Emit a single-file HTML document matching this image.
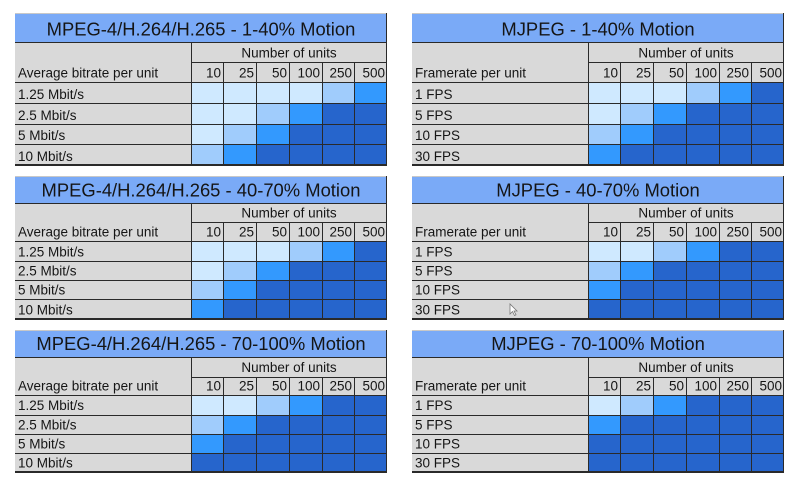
<!DOCTYPE html>
<html>
<head>
<meta charset="utf-8">
<style>
html,body{margin:0;padding:0;background:#fff;}
svg{display:block;}
.t{font-family:"Liberation Sans",sans-serif;font-size:18.4px;text-anchor:middle;fill:#151515;}
.l{font-family:"Liberation Sans",sans-serif;font-size:13.5px;fill:#151515;}
.n{font-family:"Liberation Sans",sans-serif;font-size:13.5px;fill:#151515;text-anchor:end;}
.m{font-family:"Liberation Sans",sans-serif;font-size:13.5px;fill:#151515;text-anchor:middle;}
.ti{fill:#7aaaf7;}
.g{fill:#d9d9d9;}
.a{fill:#cfe9ff;}
.b{fill:#a0ccfc;}
.c{fill:#3399fe;}
.d{fill:#2665cc;}
.k{fill:#2a2a2a;}
.lg{fill:#c8c8c8;}
</style>
</head>
<body>
<svg width="800" height="488" viewBox="0 0 800 488" xmlns="http://www.w3.org/2000/svg">
<rect width="800" height="488" fill="#fff"/>

<!-- ================= T1 LEFT ================= -->
<g transform="translate(15,13)">
<rect width="372" height="29" class="ti"/>
<rect width="372" height="1" class="lg"/>
<rect y="29" width="372" height="123" class="g"/>
<rect x="176" y="70" width="196" height="82" class="d"/>
<rect x="176" y="70" width="131" height="20" class="a"/><rect x="307" y="70" width="32" height="20" class="b"/><rect x="339" y="70" width="33" height="20" class="c"/>
<rect x="176" y="90" width="65" height="21" class="a"/><rect x="241" y="90" width="33" height="21" class="b"/><rect x="274" y="90" width="33" height="21" class="c"/>
<rect x="176" y="111" width="32" height="20" class="a"/><rect x="208" y="111" width="33" height="20" class="b"/><rect x="241" y="111" width="33" height="20" class="c"/>
<rect x="176" y="131" width="32" height="21" class="b"/><rect x="208" y="131" width="33" height="21" class="c"/>
<rect y="29" width="372" height="1" class="k"/>
<rect x="176" y="49" width="196" height="1" class="k"/>
<rect y="69" width="372" height="1" class="k"/>
<rect y="90" width="372" height="1" class="k"/>
<rect y="111" width="372" height="1" class="k"/>
<rect y="131" width="372" height="1" class="k"/>
<rect y="151" width="372" height="2" class="k"/>
<rect x="176" y="29" width="1" height="124" class="k"/>
<rect x="208" y="49" width="1" height="104" class="k"/>
<rect x="241" y="49" width="1" height="104" class="k"/>
<rect x="274" y="49" width="1" height="104" class="k"/>
<rect x="307" y="49" width="1" height="104" class="k"/>
<rect x="339" y="49" width="1" height="104" class="k"/>
<rect x="371" y="0" width="1" height="153" class="k"/>
<text class="t" x="186" y="22.3">MPEG-4/H.264/H.265 - 1-40% Motion</text>
<text class="m" x="274" y="44.3">Number of units</text>
<text class="l" x="3" y="64.5">Average bitrate per unit</text>
<text class="n" x="206" y="64.5">10</text><text class="n" x="239" y="64.5">25</text><text class="n" x="272" y="64.5">50</text><text class="n" x="305" y="64.5">100</text><text class="n" x="337" y="64.5">250</text><text class="n" x="370" y="64.5">500</text>
<text class="l" x="3" y="86">1.25 Mbit/s</text>
<text class="l" x="3" y="107">2.5 Mbit/s</text>
<text class="l" x="3" y="127">5 Mbit/s</text>
<text class="l" x="3" y="148">10 Mbit/s</text>
</g>

<!-- ================= T1 RIGHT ================= -->
<g transform="translate(412,13)">
<rect width="372" height="29" class="ti"/>
<rect width="372" height="1" class="lg"/>
<rect y="29" width="372" height="123" class="g"/>
<rect x="176" y="70" width="196" height="82" class="d"/>
<rect x="176" y="70" width="98" height="20" class="a"/><rect x="274" y="70" width="33" height="20" class="b"/><rect x="307" y="70" width="32" height="20" class="c"/>
<rect x="176" y="90" width="32" height="21" class="a"/><rect x="208" y="90" width="33" height="21" class="b"/><rect x="241" y="90" width="33" height="21" class="c"/>
<rect x="176" y="111" width="32" height="20" class="b"/><rect x="208" y="111" width="33" height="20" class="c"/>
<rect x="176" y="131" width="32" height="21" class="c"/>
<rect y="29" width="372" height="1" class="k"/>
<rect x="176" y="49" width="196" height="1" class="k"/>
<rect y="69" width="372" height="1" class="k"/>
<rect y="90" width="372" height="1" class="k"/>
<rect y="111" width="372" height="1" class="k"/>
<rect y="131" width="372" height="1" class="k"/>
<rect y="151" width="372" height="2" class="k"/>
<rect x="176" y="29" width="1" height="124" class="k"/>
<rect x="208" y="49" width="1" height="104" class="k"/>
<rect x="241" y="49" width="1" height="104" class="k"/>
<rect x="274" y="49" width="1" height="104" class="k"/>
<rect x="307" y="49" width="1" height="104" class="k"/>
<rect x="339" y="49" width="1" height="104" class="k"/>
<rect x="371" y="0" width="1" height="153" class="k"/>
<text class="t" x="186" y="22.3">MJPEG - 1-40% Motion</text>
<text class="m" x="274" y="44.3">Number of units</text>
<text class="l" x="3" y="64.5">Framerate per unit</text>
<text class="n" x="206" y="64.5">10</text><text class="n" x="239" y="64.5">25</text><text class="n" x="272" y="64.5">50</text><text class="n" x="305" y="64.5">100</text><text class="n" x="337" y="64.5">250</text><text class="n" x="370" y="64.5">500</text>
<text class="l" x="3" y="86">1 FPS</text>
<text class="l" x="3" y="107">5 FPS</text>
<text class="l" x="3" y="127">10 FPS</text>
<text class="l" x="3" y="148">30 FPS</text>
</g>

<!-- ================= T2 LEFT ================= -->
<g transform="translate(15,176)">
<rect width="372" height="27" class="ti"/>
<rect width="372" height="1" class="lg"/>
<rect y="27" width="372" height="116" class="g"/>
<rect x="176" y="65" width="196" height="78" class="d"/>
<rect x="176" y="65" width="98" height="20" class="a"/><rect x="274" y="65" width="33" height="20" class="b"/><rect x="307" y="65" width="32" height="20" class="c"/>
<rect x="176" y="85" width="32" height="19" class="a"/><rect x="208" y="85" width="33" height="19" class="b"/><rect x="241" y="85" width="33" height="19" class="c"/>
<rect x="176" y="104" width="32" height="19" class="b"/><rect x="208" y="104" width="33" height="19" class="c"/>
<rect x="176" y="123" width="32" height="20" class="c"/>
<rect y="27" width="372" height="1" class="k"/>
<rect x="176" y="46" width="196" height="1" class="k"/>
<rect y="65" width="372" height="1" class="k"/>
<rect y="85" width="372" height="1" class="k"/>
<rect y="104" width="372" height="1" class="k"/>
<rect y="123" width="372" height="1" class="k"/>
<rect y="142" width="372" height="2" class="k"/>
<rect x="176" y="27" width="1" height="117" class="k"/>
<rect x="208" y="46" width="1" height="98" class="k"/>
<rect x="241" y="46" width="1" height="98" class="k"/>
<rect x="274" y="46" width="1" height="98" class="k"/>
<rect x="307" y="46" width="1" height="98" class="k"/>
<rect x="339" y="46" width="1" height="98" class="k"/>
<rect x="371" y="0" width="1" height="144" class="k"/>
<text class="t" x="186" y="20.7">MPEG-4/H.264/H.265 - 40-70% Motion</text>
<text class="m" x="274" y="41.3">Number of units</text>
<text class="l" x="3" y="60.7">Average bitrate per unit</text>
<text class="n" x="206" y="60.7">10</text><text class="n" x="239" y="60.7">25</text><text class="n" x="272" y="60.7">50</text><text class="n" x="305" y="60.7">100</text><text class="n" x="337" y="60.7">250</text><text class="n" x="370" y="60.7">500</text>
<text class="l" x="3" y="80.5">1.25 Mbit/s</text>
<text class="l" x="3" y="99.5">2.5 Mbit/s</text>
<text class="l" x="3" y="118.5">5 Mbit/s</text>
<text class="l" x="3" y="138.5">10 Mbit/s</text>
</g>

<!-- ================= T2 RIGHT ================= -->
<g transform="translate(412,176)">
<rect width="372" height="27" class="ti"/>
<rect width="372" height="1" class="lg"/>
<rect y="27" width="372" height="116" class="g"/>
<rect x="176" y="65" width="196" height="78" class="d"/>
<rect x="176" y="65" width="65" height="20" class="a"/><rect x="241" y="65" width="33" height="20" class="b"/><rect x="274" y="65" width="33" height="20" class="c"/>
<rect x="176" y="85" width="32" height="19" class="b"/><rect x="208" y="85" width="33" height="19" class="c"/>
<rect x="176" y="104" width="32" height="19" class="c"/>
<rect y="27" width="372" height="1" class="k"/>
<rect x="176" y="46" width="196" height="1" class="k"/>
<rect y="65" width="372" height="1" class="k"/>
<rect y="85" width="372" height="1" class="k"/>
<rect y="104" width="372" height="1" class="k"/>
<rect y="123" width="372" height="1" class="k"/>
<rect y="142" width="372" height="2" class="k"/>
<rect x="176" y="27" width="1" height="117" class="k"/>
<rect x="208" y="46" width="1" height="98" class="k"/>
<rect x="241" y="46" width="1" height="98" class="k"/>
<rect x="274" y="46" width="1" height="98" class="k"/>
<rect x="307" y="46" width="1" height="98" class="k"/>
<rect x="339" y="46" width="1" height="98" class="k"/>
<rect x="371" y="0" width="1" height="144" class="k"/>
<text class="t" x="186" y="20.7">MJPEG - 40-70% Motion</text>
<text class="m" x="274" y="41.3">Number of units</text>
<text class="l" x="3" y="60.7">Framerate per unit</text>
<text class="n" x="206" y="60.7">10</text><text class="n" x="239" y="60.7">25</text><text class="n" x="272" y="60.7">50</text><text class="n" x="305" y="60.7">100</text><text class="n" x="337" y="60.7">250</text><text class="n" x="370" y="60.7">500</text>
<text class="l" x="3" y="80.5">1 FPS</text>
<text class="l" x="3" y="99.5">5 FPS</text>
<text class="l" x="3" y="118.5">10 FPS</text>
<text class="l" x="3" y="138.5">30 FPS</text>
<!-- mouse cursor -->
<polygon points="98,128 98,138 100.5,135.5 102.5,139.5 104,138.8 102,135 105,135" fill="#fff" stroke="#777" stroke-width="0.8"/>
</g>

<!-- ================= T3 LEFT ================= -->
<g transform="translate(15,330)">
<rect width="372" height="27" class="ti"/>
<rect width="372" height="1" class="lg"/>
<rect y="27" width="372" height="115" class="g"/>
<rect x="176" y="65" width="196" height="77" class="d"/>
<rect x="176" y="65" width="65" height="20" class="a"/><rect x="241" y="65" width="33" height="20" class="b"/><rect x="274" y="65" width="33" height="20" class="c"/>
<rect x="176" y="85" width="32" height="19" class="b"/><rect x="208" y="85" width="33" height="19" class="c"/>
<rect x="176" y="104" width="32" height="19" class="c"/>
<rect y="27" width="372" height="1" class="k"/>
<rect x="176" y="47" width="196" height="1" class="k"/>
<rect y="65" width="372" height="1" class="k"/>
<rect y="85" width="372" height="1" class="k"/>
<rect y="104" width="372" height="1" class="k"/>
<rect y="123" width="372" height="1" class="k"/>
<rect y="141" width="372" height="2" class="k"/>
<rect x="176" y="27" width="1" height="116" class="k"/>
<rect x="208" y="47" width="1" height="96" class="k"/>
<rect x="241" y="47" width="1" height="96" class="k"/>
<rect x="274" y="47" width="1" height="96" class="k"/>
<rect x="307" y="47" width="1" height="96" class="k"/>
<rect x="339" y="47" width="1" height="96" class="k"/>
<rect x="371" y="0" width="1" height="143" class="k"/>
<text class="t" x="186" y="20">MPEG-4/H.264/H.265 - 70-100% Motion</text>
<text class="m" x="274" y="42">Number of units</text>
<text class="l" x="3" y="60.7">Average bitrate per unit</text>
<text class="n" x="206" y="60.7">10</text><text class="n" x="239" y="60.7">25</text><text class="n" x="272" y="60.7">50</text><text class="n" x="305" y="60.7">100</text><text class="n" x="337" y="60.7">250</text><text class="n" x="370" y="60.7">500</text>
<text class="l" x="3" y="80">1.25 Mbit/s</text>
<text class="l" x="3" y="99.5">2.5 Mbit/s</text>
<text class="l" x="3" y="118.5">5 Mbit/s</text>
<text class="l" x="3" y="137.5">10 Mbit/s</text>
</g>

<!-- ================= T3 RIGHT ================= -->
<g transform="translate(412,330)">
<rect width="372" height="27" class="ti"/>
<rect width="372" height="1" class="lg"/>
<rect y="27" width="372" height="115" class="g"/>
<rect x="176" y="65" width="196" height="77" class="d"/>
<rect x="176" y="65" width="32" height="20" class="a"/><rect x="208" y="65" width="33" height="20" class="b"/><rect x="241" y="65" width="33" height="20" class="c"/>
<rect x="176" y="85" width="32" height="19" class="c"/>
<rect y="27" width="372" height="1" class="k"/>
<rect x="176" y="47" width="196" height="1" class="k"/>
<rect y="65" width="372" height="1" class="k"/>
<rect y="85" width="372" height="1" class="k"/>
<rect y="104" width="372" height="1" class="k"/>
<rect y="123" width="372" height="1" class="k"/>
<rect y="141" width="372" height="2" class="k"/>
<rect x="176" y="27" width="1" height="116" class="k"/>
<rect x="208" y="47" width="1" height="96" class="k"/>
<rect x="241" y="47" width="1" height="96" class="k"/>
<rect x="274" y="47" width="1" height="96" class="k"/>
<rect x="307" y="47" width="1" height="96" class="k"/>
<rect x="339" y="47" width="1" height="96" class="k"/>
<rect x="371" y="0" width="1" height="143" class="k"/>
<text class="t" x="186" y="20">MJPEG - 70-100% Motion</text>
<text class="m" x="274" y="42">Number of units</text>
<text class="l" x="3" y="60.7">Framerate per unit</text>
<text class="n" x="206" y="60.7">10</text><text class="n" x="239" y="60.7">25</text><text class="n" x="272" y="60.7">50</text><text class="n" x="305" y="60.7">100</text><text class="n" x="337" y="60.7">250</text><text class="n" x="370" y="60.7">500</text>
<text class="l" x="3" y="80">1 FPS</text>
<text class="l" x="3" y="99.5">5 FPS</text>
<text class="l" x="3" y="118.5">10 FPS</text>
<text class="l" x="3" y="137.5">30 FPS</text>
</g>
</svg>
</body>
</html>
